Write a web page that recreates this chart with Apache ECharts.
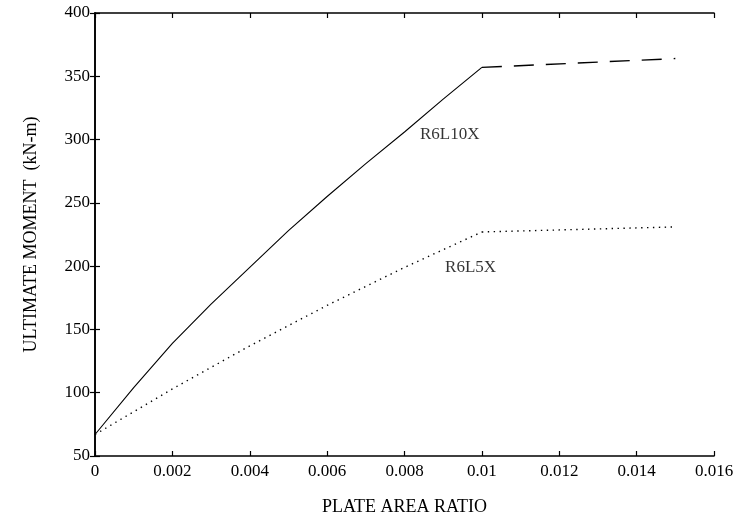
<!DOCTYPE html>
<html>
<head>
<meta charset="utf-8">
<script src="https://cdn.jsdelivr.net/npm/echarts@6/dist/echarts.min.js"></script>
<style>
html,body{margin:0;padding:0;background:#fff;}
#chart{width:751px;height:520px;}
</style>
</head>
<body>
<div id="chart"></div>
<script>
// Data
var xTicks = [0, 0.002, 0.004, 0.006, 0.008, 0.01, 0.012, 0.014, 0.016];
var xRise = [0, 0.001, 0.002, 0.003, 0.004, 0.005, 0.006, 0.007, 0.008, 0.009, 0.010];
var r6l10xRise = [67, 104, 139, 170, 199, 228, 255, 281, 306, 332, 357];
var r6l5xRise  = [67, 85, 103, 120, 137, 153, 169, 184, 199, 213, 227];
var xFlat = [0.010, 0.015];
var r6l10xFlat = [357, 364];
var r6l5xFlat  = [227, 231];
var seriesNames = ['R6L10X', 'R6L5X'];
var labelPos = [[0.0084, 304], [0.00905, 199]];

function pairs(xs, ys){ return xs.map(function(x,i){ return [x, ys[i]]; }); }

var font = '"Liberation Serif", "DejaVu Serif", serif';
var chart = echarts.init(document.getElementById('chart'));
var fmt = function(v){ return String(parseFloat(v.toFixed(4))); };
var axisCommon = {
  type: 'value',
  axisLine: {show: true, lineStyle: {color: '#000', width: 1.6}},
  axisTick: {show: true, inside: true, length: 5, lineStyle: {color: '#000', width: 1.2}},
  splitLine: {show: false}
};
chart.setOption({
  animation: false,
  backgroundColor: '#fff',
  grid: {left: 95, right: 37, top: 13, bottom: 64, containLabel: false, outerBoundsMode: 'none'},
  xAxis: [
    Object.assign({}, axisCommon, {
      min: 0, max: 0.016, interval: 0.002, position: 'bottom',
      name: 'PLATE AREA RATIO', nameLocation: 'middle', nameGap: 42,
      nameTextStyle: {fontFamily: font, fontSize: 18, color: '#000'},
      axisLabel: {formatter: fmt, fontFamily: font, fontSize: 17, color: '#000', margin: 7}
    }),
    Object.assign({}, axisCommon, {
      min: 0, max: 0.016, interval: 0.002, position: 'top',
      axisLabel: {show: false}
    })
  ],
  yAxis: [
    Object.assign({}, axisCommon, {
      min: 50, max: 400, interval: 50, position: 'left',
      name: 'ULTIMATE MOMENT  (kN-m)', nameLocation: 'middle', nameGap: 55,
      nameTextStyle: {fontFamily: font, fontSize: 18, color: '#000'},
      axisLabel: {fontFamily: font, fontSize: 17, color: '#000', margin: 5}
    }),
    Object.assign({}, axisCommon, {
      min: 50, max: 400, interval: 50, position: 'right',
      axisLabel: {show: false}
    })
  ],
  series: [
    {
      name: seriesNames[0], type: 'line', data: pairs(xRise, r6l10xRise),
      symbol: 'none', lineStyle: {color: '#000', width: 1.1, type: 'solid'}
    },
    {
      name: seriesNames[0] + ' plateau', type: 'line', data: pairs(xFlat, r6l10xFlat),
      symbol: 'none', lineStyle: {color: '#000', width: 1.4, type: [20, 12]}
    },
    {
      name: seriesNames[1], type: 'line', data: pairs(xRise, r6l5xRise),
      symbol: 'none', lineStyle: {color: '#000', width: 1.4, type: [1.4, 4.5]}
    },
    {
      name: seriesNames[1] + ' plateau', type: 'line', data: pairs(xFlat, r6l5xFlat),
      symbol: 'none', lineStyle: {color: '#000', width: 1.4, type: [1.4, 4.5]}
    },
    {
      type: 'scatter', symbolSize: 0, silent: true,
      data: labelPos.map(function(p, i){ return {value: p, name: seriesNames[i]}; }),
      label: {show: true, position: 'right', distance: 0, formatter: '{b}',
        fontFamily: font, fontSize: 17, color: '#000'}
    }
  ]
});
</script>
</body>
</html>
